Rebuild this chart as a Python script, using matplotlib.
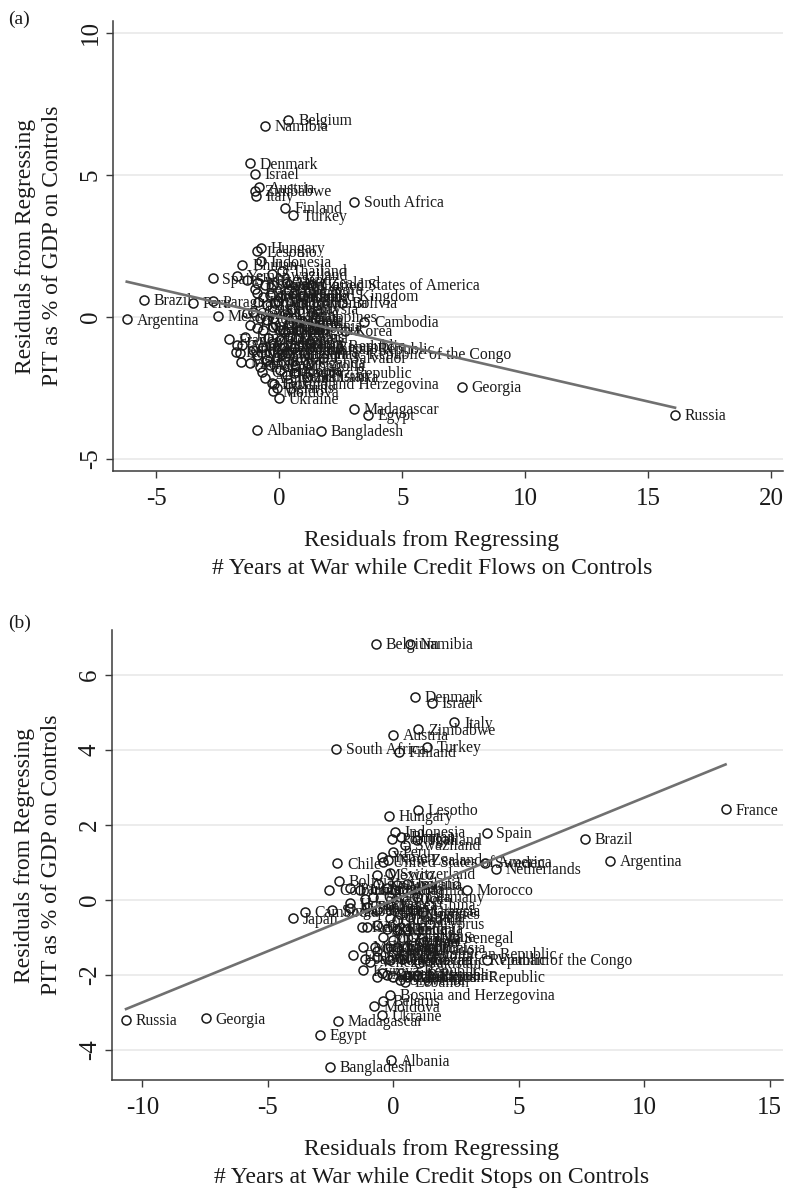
import matplotlib
matplotlib.use("Agg")
import matplotlib.pyplot as plt

plt.rcParams['font.family'] = ['Liberation Serif', 'DejaVu Serif']
plt.rcParams['axes.unicode_minus'] = False

"""
Panel (a): credit flows
"""
names_a = [
    "Belgium", "Namibia", "Denmark", "Israel", "Austria", "Zimbabwe", "Italy", "Finland", "Turkey", "South Africa",
    "Hungary", "Lesotho", "Indonesia", "Bhutan", "Thailand", "Spain", "Yemen", "Brazil", "Peru", "Paraguay",
    "Argentina", "Mexico", "France", "Bolivia", "Cambodia", "Korea", "Central African Republic",
    "Democratic Republic of the Congo", "Ghana", "El Salvador",
    "Uganda", "Kyrgyz Republic", "Sri Lanka", "Bosnia and Herzegovina", "Belarus", "Moldova", "Ukraine", "Georgia",
    "Madagascar", "Egypt",
    "Albania", "Bangladesh", "Russia", "United States of America", "New Zealand", "Switzerland", "Norway", "Sweden",
    "Australia", "Canada",
    "Netherlands", "Ireland", "Portugal", "Jordan", "Tunisia", "Uruguay", "Chile", "Colombia", "Costa Rica", "Guatemala",
    "Panama", "Honduras", "Nicaragua", "Morocco", "Germany", "Japan", "China", "Kenya", "Nigeria", "Mali",
    "Senegal", "Cameroon", "Lebanon", "Mozambique", "Rwanda", "Lithuania", "Greece", "Cyprus", "Pakistan", "Vietnam",
    "Tanzania", "India", "Nepal", "Ethiopia", "Malaysia", "Philippines", "Poland", "Romania", "Croatia", "Estonia",
    "Latvia", "Slovenia", "Czech Republic", "Dominican Republic", "Zambia", "Malawi", "Iran", "Mongolia", "Kazakhstan",
    "Armenia",
    "Swaziland", "Singapore", "United Kingdom", "Jamaica", "Venezuela", "Bulgaria", "Mauritius", "Botswana"]
x_a = [0.37, -0.58, -1.19, -0.99, -0.82, -1.00, -0.95, 0.22, 0.54, 3.04,
       -0.76, -0.92, -0.76, -1.50, 0.10, -2.71, -1.71, -5.49, -3.52, -2.68,
       -6.20, -2.48, -2.03, 2.55, 3.46, 2.68, -1.72, 0.10, 0.76, 1.78,
       1.17, 0.60, 1.12, -0.20, -0.10, -0.25, 0.00, 7.41, 3.04, 3.62,
       -0.92, 1.68, 16.09, 1.30, 0.30, -1.33, -0.92, -0.58, -0.24, -0.92,
       -0.65, -0.38, 0.03, -0.85, -0.51, -0.17, -1.33, -1.06, -0.78, -0.51,
       -0.24, -1.19, -0.92, -0.65, -0.24, 0.03, 0.23, -1.76, -1.60, -1.56,
       -1.19, -0.72, -0.31, -1.06, -0.65, -0.24, 0.03, 0.43, -0.51, -0.11,
       0.30, -0.78, -0.38, 0.03, 0.50, 0.70, 0.40, 0.90, 0.60, 1.10,
       0.25, -0.20, 0.20, 0.60, -0.45, -0.90, 1.20, 0.65, 0.30, -0.60,
       -0.30, 0.40, 0.95, -1.40, -1.50, 0.75, -0.05, -1.00]
y_a = [6.94, 6.74, 5.41, 5.04, 4.57, 4.45, 4.26, 3.85, 3.58, 4.06,
       2.44, 2.32, 1.96, 1.84, 1.63, 1.36, 1.45, 0.60, 0.50, 0.56,
       -0.08, 0.04, -0.79, 0.50, -0.16, -0.49, -0.99, -1.30, -0.74, -1.44,
       -1.62, -1.97, -2.11, -2.35, -2.50, -2.62, -2.86, -2.45, -3.22, -3.45,
       -3.98, -4.01, -3.45, 1.13, 1.20, 1.30, 1.19, 1.13, 1.13, 0.83,
       0.71, 0.77, 0.71, 0.54, 0.42, 0.48, 0.13, 0.19, -0.05, -0.11,
       -0.05, -0.28, -0.40, -0.46, -0.34, -0.46, -0.52, -1.22, -1.26, -1.57,
       -1.63, -1.93, -2.33, -1.16, -1.05, -0.93, -0.81, -0.69, -1.51, -1.40,
       -1.28, -1.75, -1.69, -1.87, 0.30, 0.00, -0.20, 0.50, 0.85, -0.30,
       0.10, 0.25, -1.05, -1.10, -0.75, -1.35, -0.90, -1.70, -2.05, -2.15,
       1.50, 0.95, 0.75, -0.70, -1.00, -0.45, 0.55, 1.00]
fit_a = (0.01, -0.199)   # intercept, slope

"""
Panel (b): credit stops
"""
names_b = [
    "Belgium", "Namibia", "Denmark", "Israel", "Italy", "Zimbabwe", "Austria", "South Africa", "Turkey", "Finland",
    "Lesotho", "Hungary", "Indonesia", "Spain", "Portugal", "Thailand", "Swaziland", "Peru", "New Zealand",
    "United States of America",
    "Sweden", "Netherlands", "Brazil", "Argentina", "France", "Chile", "Bolivia", "Colombia", "Lithuania", "Morocco",
    "Germany", "China", "Greece", "Cyprus", "Japan", "Cambodia", "Singapore", "Senegal", "Tunisia",
    "Democratic Republic of the Congo",
    "Vietnam", "Pakistan", "Central African Republic", "Lebanon", "Bosnia and Herzegovina", "Belarus", "Moldova",
    "Ukraine", "Madagascar", "Egypt",
    "Albania", "Bangladesh", "Georgia", "Russia", "Bhutan", "Yemen", "Mexico", "Switzerland", "Norway", "Canada",
    "Australia", "Ireland", "Paraguay", "Uruguay", "Costa Rica", "Guatemala", "Honduras", "Nicaragua", "Panama", "Jordan",
    "Korea", "Philippines", "Malaysia", "Poland", "Romania", "Croatia", "Kenya", "Nigeria", "Ghana", "Rwanda",
    "Uganda", "Estonia", "Mozambique", "Tanzania", "Zambia", "Latvia", "Iran", "Mali", "Cameroon", "Malawi",
    "India", "Nepal", "Ethiopia", "El Salvador", "Ecuador", "Jamaica", "Venezuela", "Sri Lanka", "Kazakhstan", "Mongolia",
    "Dominican Republic", "Kyrgyz Republic", "Armenia", "Czech Republic", "Bulgaria", "Slovenia", "Mauritius", "Botswana"]
x_b = [-0.69, 0.67, 0.86, 1.55, 2.43, 1.00, -0.02, -2.28, 1.35, 0.24,
       0.97, -0.16, 0.07, 3.72, -0.06, 0.93, 0.47, 0.00, -0.21, -0.41,
       3.65, 4.09, 7.64, 8.63, 13.24, -2.23, -2.15, -2.55, 0.07, 2.92,
       0.94, 1.42, 1.18, 1.46, -3.98, -3.52, -2.45, 2.42, 1.46, 0.35,
       3.75, 1.02, -0.65, 0.47, -0.13, -0.40, -0.77, -0.46, -2.19, -2.92,
       -0.09, -2.52, -7.47, -10.65, 0.30, -0.46, -0.66, -0.13, -0.60, -0.26,
       0.13, 0.53, -1.73, -1.33, -1.13, -0.80, -1.73, -1.73, -1.06, -0.66,
       -0.13, 0.27, 0.80, -0.13, 0.13, 0.67, -1.26, -1.06, -0.66, -0.26,
       0.13, 0.53, -0.40, 0.00, 0.40, 0.80, 1.20, -1.20, -0.73, -0.26,
       0.13, 0.53, -0.66, 0.13, -1.59, -1.13, -0.93, -0.66, -0.13, 0.40,
       0.93, -1.20, -0.46, -0.26, 0.00, 0.27, 0.53, 0.93]
y_b = [6.84, 6.84, 5.42, 5.26, 4.74, 4.55, 4.40, 4.04, 4.09, 3.96,
       2.40, 2.24, 1.82, 1.80, 1.64, 1.60, 1.47, 1.29, 1.07, 1.02,
       0.99, 0.84, 1.63, 1.05, 2.42, 0.98, 0.51, 0.28, 0.28, 0.28,
       0.09, -0.13, -0.31, -0.64, -0.49, -0.31, -0.27, -1.01, -1.28, -1.58,
       -1.60, -1.68, -2.04, -2.18, -2.53, -2.68, -2.83, -3.07, -3.22, -3.60,
       -4.27, -4.45, -3.15, -3.20, 1.68, 1.15, 0.67, 0.71, 0.44, 0.31,
       0.40, 0.44, 0.31, 0.27, 0.04, 0.09, -0.09, -0.22, -0.18, -0.27,
       -0.13, -0.36, -0.27, -0.49, -0.53, -0.44, -0.71, -0.71, -0.67, -0.76,
       -0.80, -0.76, -0.98, -1.07, -1.02, -0.98, -1.11, -1.24, -1.24, -1.29,
       -1.24, -1.24, -1.35, -1.33, -1.47, -1.56, -1.64, -1.51, -1.60, -1.47,
       -1.42, -1.87, -1.95, -2.00, -2.04, -2.13, -2.04, -2.00]
fit_b = (0.0, 0.273)

ylabel = "Residuals from Regressing\nPIT as % of GDP on Controls"
xlabel_a = "Residuals from Regressing\n# Years at War while Credit Flows on Controls"
xlabel_b = "Residuals from Regressing\n# Years at War while Credit Stops on Controls"

ink = "#1a1a1a"
axis_col = "#3a3a3a"


def panel(ax, names, xs, ys, fit, xlim, ylim, xticks, yticks, xlabel):
    ax.set_xlim(xlim)
    ax.set_ylim(ylim)
    ax.set_xticks(xticks)
    ax.set_yticks(yticks)
    ax.yaxis.grid(True, color="#ebebeb", lw=1.3)
    ax.set_axisbelow(True)
    for s in ["top", "right"]:
        ax.spines[s].set_visible(False)
    for s in ["left", "bottom"]:
        ax.spines[s].set_color(axis_col)
        ax.spines[s].set_linewidth(1.1)
    ax.tick_params(direction="out", length=5, width=1, color=axis_col, labelsize=18, labelcolor=ink)
    ax.tick_params(axis="x", pad=7)
    ax.tick_params(axis="y", pad=3)
    for lab in ax.get_yticklabels():
        lab.set_rotation(90)
        lab.set_va("center")

    ax.plot(xs, ys, "o", ms=6.5, mfc="none", mec=ink, mew=1.1, zorder=3)
    for n, x, y in zip(names, xs, ys):
        ax.annotate(n, (x, y), xytext=(7, -1), textcoords="offset points",
                    fontsize=11.3, color=ink, va="center", ha="left", zorder=3)

    lo, hi = min(xs), max(xs)
    ax.plot([lo, hi], [fit[0] + fit[1] * lo, fit[0] + fit[1] * hi], color="#707070", lw=1.9, zorder=4)

    ax.set_xlabel(xlabel, fontsize=17, color=ink, linespacing=1.45)
    ax.xaxis.set_label_coords(0.476, -0.13)
    ax.set_ylabel(ylabel, fontsize=17, color=ink, linespacing=1.35)
    ax.yaxis.set_label_coords(-0.075, 0.5)


fig = plt.figure(figsize=(7.87, 11.88), dpi=100)
W, H = 787.0, 1188.0
ax_a = fig.add_axes([113 / W, (H - 471) / H, 670 / W, 450 / H])
ax_b = fig.add_axes([112 / W, (H - 1080) / H, 671 / W, 450 / H])

panel(ax_a, names_a, x_a, y_a, fit_a, (-6.76, 20.48), (-5.42, 10.42),
      [-5, 0, 5, 10, 15, 20], [-5, 0, 5, 10], xlabel_a)
panel(ax_b, names_b, x_b, y_b, fit_b, (-11.21, 15.53), (-4.8, 7.2),
      [-10, -5, 0, 5, 10, 15], [-4, -2, 0, 2, 4, 6], xlabel_b)

fig.text(8 / W, 1 - 19 / H, "(a)", fontsize=14, color=ink, va="center")
fig.text(8 / W, 1 - 623 / H, "(b)", fontsize=14, color=ink, va="center")

fig.savefig("out.png", dpi=100)
